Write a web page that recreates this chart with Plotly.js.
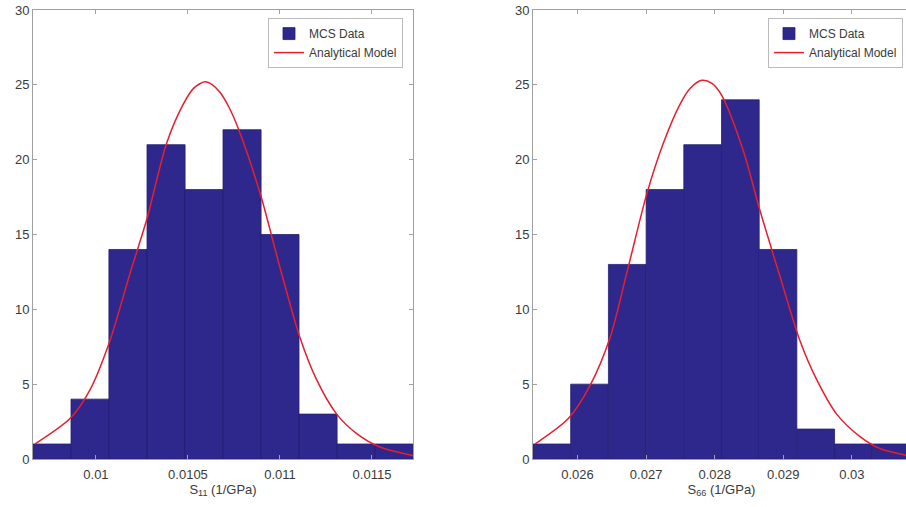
<!DOCTYPE html>
<html>
<head>
<meta charset="utf-8">
<script src="https://cdn.plot.ly/plotly-3.0.1.min.js"></script>
<style>
html, body { margin: 0; padding: 0; overflow: hidden; background: #fff; }
#chart { width: 912px; height: 507px; }
</style>
</head>
<body>
<div id="chart"></div>
<script>
// ---- Left panel: S11 ----
const s11BinCenters = [0.009761, 0.009968, 0.010174, 0.010381, 0.010587, 0.010794, 0.011000, 0.011207, 0.011413, 0.011620];
const s11Counts     = [1, 4, 14, 21, 18, 22, 15, 3, 1, 1];
const s11ModelX = [0.009668, 0.009859, 0.009967, 0.010076, 0.010185, 0.010276, 0.010384, 0.010474, 0.010533, 0.010592, 0.010633, 0.010674, 0.010723, 0.010773, 0.010891, 0.011000, 0.011109, 0.011199, 0.011308, 0.011417, 0.011543, 0.011723];
const s11ModelY = [1.0, 2.7, 4.6, 7.9, 12.4, 16.0, 21.1, 23.7, 24.8, 25.2, 25.0, 24.5, 23.5, 22.1, 17.8, 12.8, 8.1, 5.3, 3.0, 1.7, 0.8, 0.23];
const s11TickVals = [0.01, 0.0105, 0.011, 0.0115];
const s11TickText = ['0.01', '0.0105', '0.011', '0.0115'];

// ---- Right panel: S66 ----
const s66BinCenters = [0.025626, 0.026175, 0.026725, 0.027275, 0.027824, 0.028374, 0.028923, 0.029473, 0.030022, 0.030572];
const s66Counts     = [1, 5, 13, 18, 21, 24, 14, 2, 1, 1];
const s66ModelX = [0.025380, 0.025866, 0.026182, 0.026474, 0.026717, 0.027009, 0.027251, 0.027494, 0.027650, 0.027811, 0.027960, 0.028102, 0.028417, 0.028660, 0.028952, 0.029243, 0.029487, 0.029778, 0.030118, 0.030410, 0.030847];
const s66ModelY = [1.0, 2.7, 4.9, 8.1, 12.4, 17.7, 21.1, 23.7, 24.8, 25.3, 25.1, 24.3, 20.6, 16.6, 12.2, 7.9, 5.3, 3.0, 1.5, 0.7, 0.2];
const s66TickVals = [0.026, 0.027, 0.028, 0.029, 0.03];
const s66TickText = ['0.026', '0.027', '0.028', '0.029', '0.03'];

const yTickVals = [0, 5, 10, 15, 20, 25, 30];
const seriesNames = ['MCS Data', 'Analytical Model'];

const barColor = 'rgb(46,40,140)';
const lineColor = 'rgb(232,30,45)';
const axisColor = '#a0a0a0';
const textColor = '#3a3a3a';
const fontFam = 'Liberation Sans, Arial, sans-serif';

const w1 = s11BinCenters[1] - s11BinCenters[0];
const w2 = s66BinCenters[1] - s66BinCenters[0];

const traces = [
  { type: 'bar', x: s11BinCenters, y: s11Counts, width: w1, name: seriesNames[0],
    marker: { color: barColor, line: { color: 'rgb(36,32,115)', width: 0.8 } },
    xaxis: 'x', yaxis: 'y', legend: 'legend' },
  { type: 'scatter', mode: 'lines', x: s11ModelX, y: s11ModelY, name: seriesNames[1],
    line: { color: lineColor, width: 1.5, shape: 'spline', smoothing: 0.8 }, xaxis: 'x', yaxis: 'y', legend: 'legend' },
  { type: 'bar', x: s66BinCenters, y: s66Counts, width: w2, name: seriesNames[0],
    marker: { color: barColor, line: { color: 'rgb(36,32,115)', width: 0.8 } },
    xaxis: 'x2', yaxis: 'y2', legend: 'legend2' },
  { type: 'scatter', mode: 'lines', x: s66ModelX, y: s66ModelY, name: seriesNames[1],
    line: { color: lineColor, width: 1.5, shape: 'spline', smoothing: 0.8 }, xaxis: 'x2', yaxis: 'y2', legend: 'legend2' }
];

function xAxis(domain, range, tv, tt, title, anchor) {
  return {
    domain: domain, range: range, anchor: anchor,
    tickvals: tv, ticktext: tt,
    ticks: 'inside', ticklen: 4, tickcolor: axisColor, mirror: 'ticks',
    showline: true, linecolor: axisColor, linewidth: 1,
    showgrid: false, zeroline: false,
    ticklabelstandoff: 3,
    tickfont: { size: 13, color: textColor, family: fontFam },
    title: { text: title, font: { size: 13, color: textColor, family: fontFam }, standoff: 1 }
  };
}
function yAxis(anchor) {
  return {
    domain: [0, 1], range: [0, 30], anchor: anchor,
    tickvals: yTickVals,
    ticks: 'inside', ticklen: 4, tickcolor: axisColor, mirror: 'ticks',
    showline: true, linecolor: axisColor, linewidth: 1,
    showgrid: false, zeroline: false,
    tickfont: { size: 13, color: textColor, family: fontFam }
  };
}
function legendBox(xr) {
  return {
    x: xr, y: 0.982, xanchor: 'right', yanchor: 'top',
    bgcolor: '#fff', bordercolor: '#bbb', borderwidth: 1,
    font: { size: 12, color: textColor, family: fontFam },
    itemwidth: 30, tracegroupgap: 0
  };
}

const layout = {
  width: 912, height: 507,
  margin: { l: 33, r: 2, t: 10, b: 48 },
  paper_bgcolor: '#fff', plot_bgcolor: '#fff',
  bargap: 0, barmode: 'overlay',
  font: { family: fontFam, color: textColor },
  xaxis: xAxis([0, 0.4333], [0.009658, 0.011723], s11TickVals, s11TickText, 'S<sub>11</sub> (1/GPa)', 'y'),
  yaxis: yAxis('x'),
  xaxis2: xAxis([0.5701, 1], [0.025351, 0.030847], s66TickVals, s66TickText, 'S<sub>66</sub> (1/GPa)', 'y2'),
  yaxis2: yAxis('x2'),
  legend: legendBox(0.4219),
  legend2: legendBox(0.992),
  showlegend: true
};

Plotly.newPlot('chart', traces, layout, { displayModeBar: false, staticPlot: true });
</script>
</body>
</html>
